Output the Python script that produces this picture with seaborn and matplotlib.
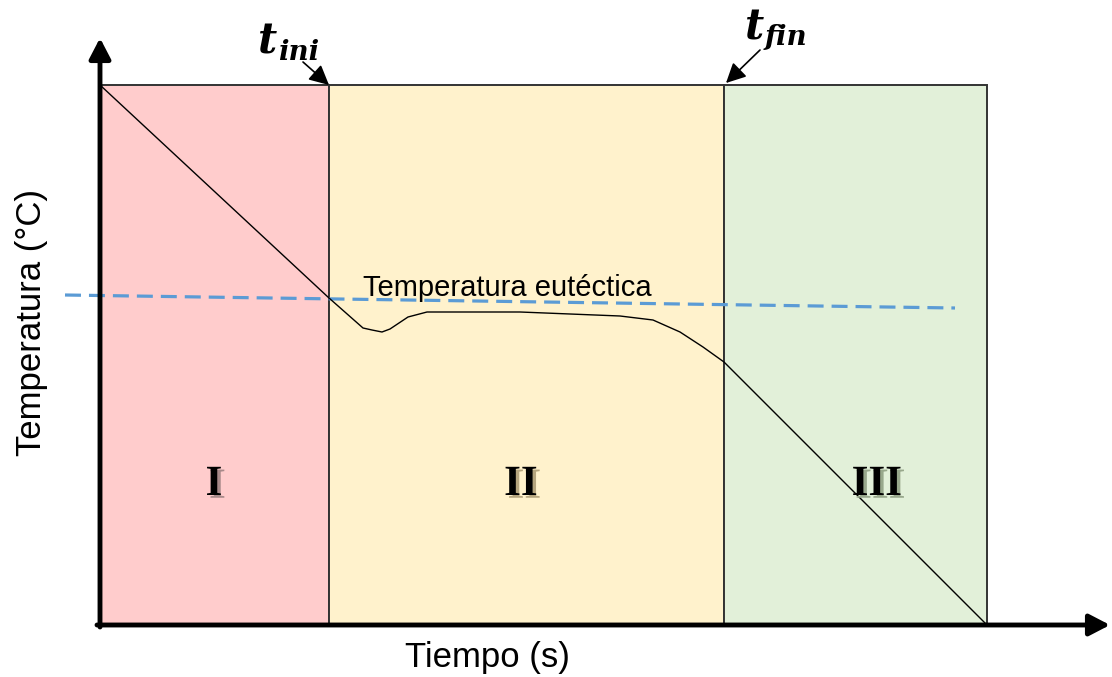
import matplotlib
matplotlib.use("Agg")
import matplotlib.pyplot as plt
import matplotlib.patheffects as pe
import seaborn as sns

# cooling curve (time vs temperature, arbitrary units)
tiempo = [0, 229, 263, 272, 282, 290, 308, 327, 420, 520, 553, 580, 603, 624, 887]
temperatura = [540, 327, 297, 295, 293, 296, 308, 313, 313, 309, 305, 293, 278, 263, 0]

# eutectic temperature line
eut_tiempo = [-35, 855]
eut_temp = [330, 317]

# solidification stages
fases = ["I", "II", "III"]
fase_inicio = [0, 229, 624]
fase_fin = [229, 624, 887]
fase_color = ["#FFCCCC", "#FFF2CC", "#E2F0D9"]
fase_sombra = ["#A88A8A", "#B5A57E", "#98A88C"]
t_tope = 540

sns.set_style("white")
plt.rcParams["font.family"] = ["Liberation Sans", "DejaVu Sans"]
plt.rcParams["text.color"] = "black"

fig = plt.figure(figsize=(11.12, 6.77), dpi=100)
ax = fig.add_axes([0, 0, 1, 1])

# stage boxes
anchos = [f - i for i, f in zip(fase_inicio, fase_fin)]
ax.bar(fase_inicio, t_tope, width=anchos, align="edge", color=fase_color,
       edgecolor="#333333", linewidth=1.4, zorder=1)

# curves
sns.lineplot(x=eut_tiempo, y=eut_temp, ax=ax, color="#5B9BD5", lw=2.3,
             sort=False, estimator=None, zorder=3)
ax.lines[-1].set_dashes((5, 2.5))
sns.lineplot(x=tiempo, y=temperatura, ax=ax, color="black", lw=1,
             sort=False, estimator=None, zorder=4)

# axes arrows
flecha = dict(arrowstyle="-|>,head_width=0.65,head_length=1.25", lw=3.5,
              color="black", shrinkA=0, shrinkB=0)
ax.annotate("", xy=(0, 587), xytext=(0, -2), arrowprops=flecha, zorder=5)
ax.annotate("", xy=(1010, 0), xytext=(-3, 0), arrowprops=flecha, zorder=5)

# t_ini / t_fin markers
chica = dict(arrowstyle="-|>,head_width=0.6,head_length=1.2", lw=1.2,
             color="black", shrinkA=0, shrinkB=0)
ax.annotate("", xy=(229, 540), xytext=(203, 563), arrowprops=chica, zorder=5)
ax.annotate("", xy=(626, 542), xytext=(660, 575), arrowprops=chica, zorder=5)
marca = dict(family="DejaVu Serif", fontweight="bold", style="italic",
             ha="left", va="baseline")
ax.text(158, 571, "t", fontsize=30, **marca)
ax.text(178, 565, "ini", fontsize=20, **marca)
ax.text(645, 586, "t", fontsize=30, **marca)
ax.text(665, 580, "fin", fontsize=20, **marca)

# stage labels
etiqueta_x = [114, 421, 777]
for nombre, x, sombra in zip(fases, etiqueta_x, fase_sombra):
    ax.text(x, 130, nombre, fontsize=31, family="Liberation Serif",
            fontweight="bold", ha="center", va="baseline", zorder=6,
            path_effects=[pe.withSimplePatchShadow(offset=(2.5, -2),
                                                   shadow_rgbFace=sombra,
                                                   alpha=1)])

ax.text(263, 329, "Temperatura eutéctica", fontsize=21, ha="left",
        va="baseline", zorder=6)
ax.text(387, -42, "Tiempo (s)", fontsize=25, ha="center", va="baseline")
ax.text(-69, 302, "Temperatura (°C)", fontsize=25, rotation=90,
        ha="center", va="center")

ax.set_xlim(-100, 1012)
ax.set_ylim(-52, 625)
ax.axis("off")

fig.savefig("out.png", dpi=100)
